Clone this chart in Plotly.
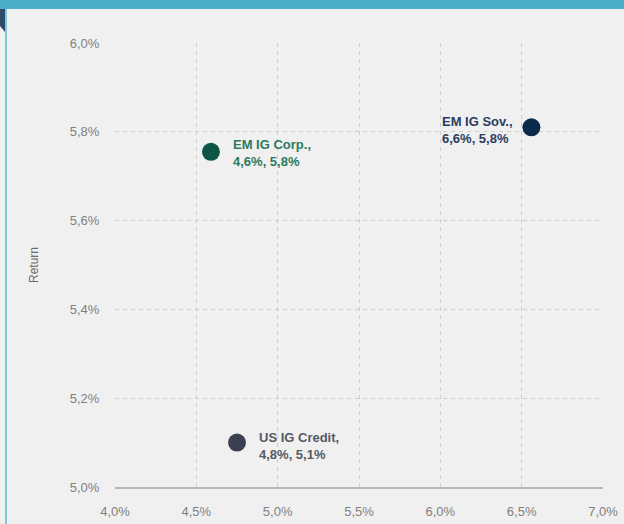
import plotly.graph_objects as go

names = ["EM IG Corp.", "EM IG Sov.", "US IG Credit"]
risk = [4.59, 6.56, 4.75]
ret = [5.755, 5.81, 5.10]
labels = ["EM IG Corp.,<br>4,6%, 5,8%", "EM IG Sov.,<br>6,6%, 5,8%", "US IG Credit,<br>4,8%, 5,1%"]
marker_colors = ["#0d5544", "#0b2b4c", "#3b4150"]
text_colors = ["#2c7a5c", "#2b3d5e", "#555a63"]
label_side = ["right", "left", "right"]

x_ticks = [4.0, 4.5, 5.0, 5.5, 6.0, 6.5, 7.0]
y_ticks = [5.0, 5.2, 5.4, 5.6, 5.8, 6.0]

def fmt(v):
    return f"{v:.1f}".replace(".", ",") + "%"

W, H = 624, 524
L, R, T, B = 115, 21, 43, 37
ph = H - T - B
pw = W - L - R

fig = go.Figure()
xshifts = [20, -16, 20]
yshifts = [-1, -3, -3]
for i in range(len(names)):
    fig.add_trace(go.Scatter(
        x=[risk[i]], y=[ret[i]], mode="markers", name=names[i],
        marker=dict(size=18, color=marker_colors[i], line=dict(width=0)),
        showlegend=False, hoverinfo="skip"))
    fig.add_annotation(
        x=risk[i], y=ret[i], xref="x", yref="y", text="<b>" + labels[i] + "</b>",
        showarrow=False, align="left",
        xanchor="left" if label_side[i] == "right" else "right",
        yanchor="middle",
        xshift=xshifts[i], yshift=yshifts[i],
        font=dict(family="Liberation Sans Narrow, Liberation Sans, Arial", size=13, color=text_colors[i]))

def py(pix):
    return 1 - (pix - T) / ph

def px(pix):
    return (pix - L) / pw

shapes = [
    dict(type="rect", xref="paper", yref="paper", x0=px(0), x1=px(W), y0=py(9), y1=py(0),
         fillcolor="#4aaec9", line=dict(width=0), layer="above"),
    dict(type="rect", xref="paper", yref="paper", x0=px(5), x1=px(7), y0=py(H), y1=py(9),
         fillcolor="#7cc8dc", line=dict(width=0)),
    dict(type="path", xref="paper", yref="paper",
         path=f"M {px(0)} {py(9)} L {px(5)} {py(9)} L {px(5)} {py(32)} L {px(0)} {py(26)} Z",
         fillcolor="#2e4a66", line=dict(width=0)),
]

fig.update_layout(
    width=W, height=H,
    margin=dict(l=L, r=R, t=T, b=B),
    paper_bgcolor="#f1f0f1", plot_bgcolor="#f1f0f1",
    shapes=shapes,
    font=dict(family="Liberation Sans, Arial", color="#7a7a7a"),
    xaxis=dict(range=[4.0, 7.0], tickmode="array", tickvals=x_ticks,
               ticktext=[fmt(v) for v in x_ticks], automargin=False,
               showgrid=True, gridcolor="#cdcdcd", griddash="4px,4px", gridwidth=1,
               zeroline=False, showline=True, linecolor="#b8b8b8", linewidth=1.5,
               ticks="outside", ticklen=12, tickcolor="#f1f0f1",
               tickfont=dict(size=13, color="#808080")),
    yaxis=dict(range=[5.0, 6.0], tickmode="array", tickvals=y_ticks,
               ticktext=[fmt(v) for v in y_ticks], automargin=False,
               showgrid=True, gridcolor="#cdcdcd", griddash="4px,4px", gridwidth=1,
               zeroline=False, showline=False,
               ticks="outside", ticklen=12, tickcolor="#f1f0f1",
               title=dict(text="Return", font=dict(size=12, color="#6a6a6a"), standoff=28),
               tickfont=dict(size=13, color="#808080")),
)
fig.write_html("out.html")
